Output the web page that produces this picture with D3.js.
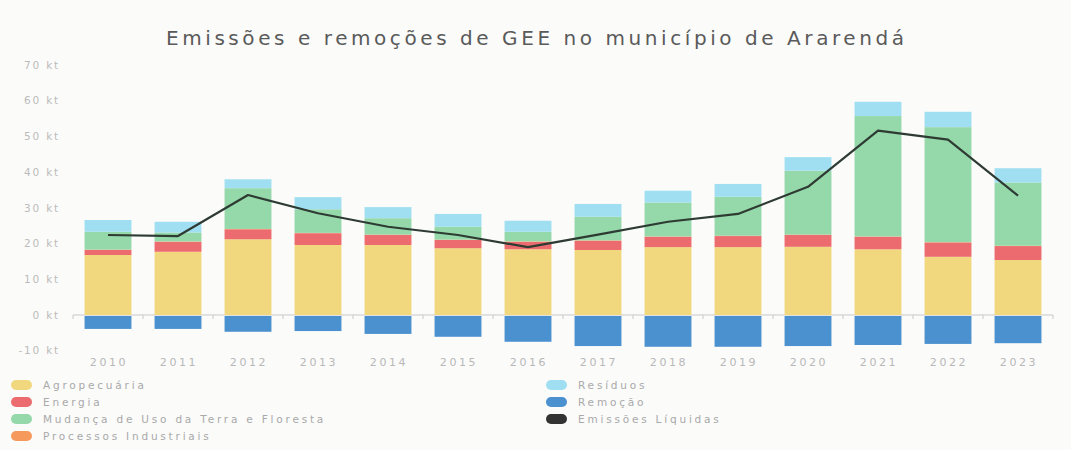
<!DOCTYPE html>
<html>
<head>
<meta charset="utf-8">
<script src="https://cdn.jsdelivr.net/npm/d3@7"></script>
<style>
	body { margin:0; background:#fbfbfa; font-family:"DejaVu Sans", "Open Sans", sans-serif; }
	svg { display:block; }
</style>
</head>
<body>
<svg id="chart" width="1071" height="450"></svg>
<script>
// dados (kt)
var anos		= ["2010","2011","2012","2013","2014","2015","2016","2017","2018","2019","2020","2021","2022","2023"];
var agropecuaria	= [16.8, 17.7, 21.2, 19.6, 19.6, 18.7, 18.4, 18.2, 19.0, 19.0, 19.1, 18.4, 16.3, 15.4];
var energia		= [ 1.4,  2.8,  2.8,  3.3,  2.8,  2.3,  2.1,  2.6,  2.9,  3.1,  3.3,  3.5,  4.0,  3.9];
var processos		= [ 0.1,  0.1,  0.1,  0.1,  0.1,  0.1,  0.1,  0.1,  0.1,  0.1,  0.1,  0.1,  0.1,  0.1];
var mudanca		= [ 5.0,  2.5, 11.4,  6.6,  4.6,  3.6,  2.7,  6.6,  9.5, 10.9, 17.9, 33.7, 32.2, 17.7];
var residuos		= [ 3.3,  3.0,  2.5,  3.4,  3.1,  3.6,  3.1,  3.6,  3.3,  3.6,  3.8,  4.0,  4.3,  4.0];
var remocao		= [-3.9, -3.9, -4.7, -4.5, -5.3, -6.1, -7.5, -8.7, -8.9, -8.9, -8.7, -8.4, -8.1, -7.9];
var liquidas		= [22.4, 22.1, 33.6, 28.5, 24.7, 22.4, 19.0, 22.5, 26.1, 28.3, 35.9, 51.6, 49.1, 33.4];
var yTicks		= [-10, 0, 10, 20, 30, 40, 50, 60, 70];

var series = [
	{ key:"agro",  nome:"Agropecuária",                      cor:"#f1d87e", vals:agropecuaria },
	{ key:"ener",  nome:"Energia",                           cor:"#ec6b6e", vals:energia },
	{ key:"proc",  nome:"Processos Industriais",             cor:"#f59a5c", vals:processos },
	{ key:"mud",   nome:"Mudança de Uso da Terra e Floresta", cor:"#95d8aa", vals:mudanca },
	{ key:"res",   nome:"Resíduos",                          cor:"#a0dff1", vals:residuos }
];
var corRemocao = "#4c91cf", corLinha = "#2e3b33";

var svg = d3.select("#chart");

var x = d3.scaleBand().domain(anos).range([73, 1053]).paddingInner(0.33).paddingOuter(0.165);
var y = d3.scaleLinear().domain([-10, 70]).range([350.7, 65]);

// título
svg.append("text").attr("x", 535).attr("y", 45).attr("text-anchor","middle")
	.attr("textLength", 738).attr("lengthAdjust","spacing")
	.style("font-size","20px").attr("fill","#5a5a5a")
	.text("Emissões e remoções de GEE no município de Ararendá");

// eixo y (só rótulos)
svg.append("g").selectAll("text").data(yTicks).enter().append("text")
	.attr("x", 60).attr("y", function(d){ return y(d); }).attr("dy","0.35em")
	.attr("text-anchor","end").style("font-size","10.5px").style("letter-spacing","1.8px").attr("fill","#bbbbbb")
	.text(function(d){ return d+" kt"; });

// linha do zero com marcas
var step = x.step();
var zero = svg.append("g");
zero.append("line").attr("x1", 73).attr("x2", 1053).attr("y1", y(0)).attr("y2", y(0))
	.attr("stroke","#c9c9c9").attr("stroke-width",1);
zero.selectAll("line.tk").data(d3.range(anos.length+1)).enter().append("line").attr("class","tk")
	.attr("x1", function(i){ return 73 + i*step; }).attr("x2", function(i){ return 73 + i*step; })
	.attr("y1", y(0)).attr("y2", y(0)+4).attr("stroke","#c9c9c9");

// barras empilhadas
var tabela = anos.map(function(a, i) {
	var o = { ano:a };
	series.forEach(function(s){ o[s.key] = s.vals[i]; });
	return o;
});
var stack = d3.stack().keys(series.map(function(s){ return s.key; }));
var camadas = stack(tabela);
svg.append("g").selectAll("g").data(camadas).enter().append("g")
	.attr("fill", function(d, i){ return series[i].cor; })
	.selectAll("rect").data(function(d){ return d; }).enter().append("rect")
	.attr("x", function(d){ return x(d.data.ano); })
	.attr("width", x.bandwidth())
	.attr("y", function(d){ return y(d[1]); })
	.attr("height", function(d){ return y(d[0]) - y(d[1]); });

// remoções
svg.append("g").attr("fill", corRemocao).selectAll("rect").data(remocao).enter().append("rect")
	.attr("x", function(d, i){ return x(anos[i]); })
	.attr("width", x.bandwidth())
	.attr("y", y(0) + 1)
	.attr("height", function(d){ return y(d) - y(0) - 1; });

// emissões líquidas
var linha = d3.line().x(function(d, i){ return x(anos[i]) + x.bandwidth()/2; }).y(function(d){ return y(d); });
svg.append("path").datum(liquidas).attr("d", linha).attr("fill","none")
	.attr("stroke", corLinha).attr("stroke-width", 2.2).attr("stroke-linejoin","round");

// rótulos do eixo x
svg.append("g").selectAll("text").data(anos).enter().append("text")
	.attr("x", function(d){ return x(d) + x.bandwidth()/2 + 1; }).attr("y", 362).attr("dy","0.35em")
	.attr("text-anchor","middle").style("font-size","11px").style("letter-spacing","2.6px").attr("fill","#b8b8b8")
	.text(function(d){ return d; });

// legenda
var legenda = [
	{ nome:"Agropecuária", cor:series[0].cor, col:0, lin:0 },
	{ nome:"Energia", cor:series[1].cor, col:0, lin:1 },
	{ nome:"Mudança de Uso da Terra e Floresta", cor:series[3].cor, col:0, lin:2 },
	{ nome:"Processos Industriais", cor:series[2].cor, col:0, lin:3 },
	{ nome:"Resíduos", cor:series[4].cor, col:1, lin:0 },
	{ nome:"Remoção", cor:corRemocao, col:1, lin:1 },
	{ nome:"Emissões Líquidas", cor:"#333", col:1, lin:2 }
];
var lg = svg.append("g").selectAll("g").data(legenda).enter().append("g")
	.attr("transform", function(d){ return "translate(" + (d.col ? 546 : 11) + "," + (385 + d.lin*17) + ")"; });
lg.append("rect").attr("x",0).attr("y",-5).attr("width",21).attr("height",10).attr("rx",5)
	.attr("fill", function(d){ return d.cor; });
lg.append("text").attr("x", 32).attr("dy","0.35em").style("font-size","10.5px").style("letter-spacing","2.8px")
	.attr("fill","#a9a9a9").text(function(d){ return d.nome; });
</script>
</body>
</html>
